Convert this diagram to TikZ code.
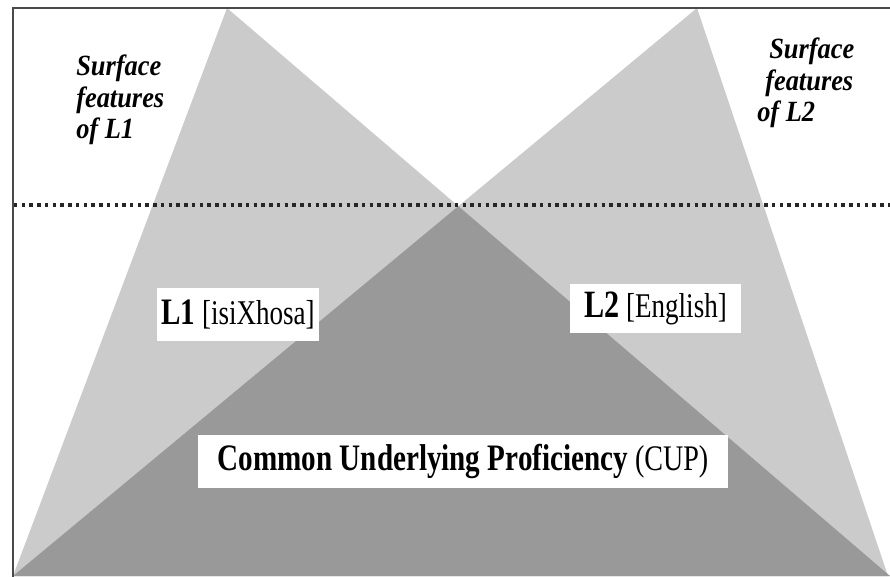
\documentclass[tikz,border=0pt]{standalone}
\usepackage{fontspec}
\setmainfont{Liberation Serif}
\newfontfamily\condf[FakeStretch=0.78]{Liberation Serif}
\newfontfamily\surff[FakeStretch=0.9]{Liberation Serif}
\usetikzlibrary{calc}
\definecolor{lightg}{HTML}{CBCBCB}
\definecolor{darkg}{HTML}{999999}
\definecolor{framec}{HTML}{4A4A4A}
\tikzset{
  labelbox/.style={fill=white, inner sep=0pt, align=center},
  surftext/.style={inner sep=0pt, anchor=north west, align=left,
    font=\surff\fontsize{22}{23.5}\selectfont\bfseries\itshape},
  dotline/.style={line width=2.4pt, dash pattern=on 2.6pt off 3.2pt, black!85},
}
\begin{document}
\begin{tikzpicture}[x=0.75pt,y=-0.75pt]
\useasboundingbox (0,0) rectangle (890,576);
% triangles
\coordinate (A1) at (227,8);
\coordinate (A2) at (697,8);
\coordinate (BL) at (13,576);
\coordinate (BR) at (890,576);
\coordinate (BR2) at (888,576);
\fill[lightg] (A1) -- (BL) -- (BR) -- cycle;
\fill[lightg] (A2) -- (BL) -- (BR2) -- cycle;
\coordinate (X) at (intersection of A1--BR and A2--BL);
\fill[darkg] (X) -- (BL) -- (BR) -- cycle;
% frame
\draw[framec, line width=1.5pt] (13,577) -- (13,8) -- (891,8);
% dotted line
\coordinate (D1) at (14,205);
\coordinate (D2) at (890,205);
\draw[dotline] (D1) -- (D2);
% labels
\node[surftext] (surf1) at (76,55) {Surface\\features\\of L1};
\node[surftext] (surf2) at (757,38) {\hspace*{9pt}Surface\\\hspace*{6pt}features\\of L2};
\node[labelbox, minimum width=121.5pt, minimum height=39.75pt] (l1) at (238,314.5)
  {\condf{\fontsize{28}{30}\selectfont\bfseries L1}{\fontsize{26}{28}\selectfont\ [isiXhosa]}};
\node[labelbox, minimum width=128.25pt, minimum height=36.75pt] (l2) at (655.5,308.5)
  {\condf{\fontsize{29}{30}\selectfont\bfseries L2}{\fontsize{26}{28}\selectfont\ [English]}};
\node[labelbox, minimum width=397.5pt, minimum height=39.75pt] (cup) at (463,461.5)
  {\condf{\fontsize{28}{30}\selectfont\bfseries Common Underlying Proficiency}{\fontsize{27}{30}\selectfont\ (CUP)}};
\end{tikzpicture}
\end{document}
